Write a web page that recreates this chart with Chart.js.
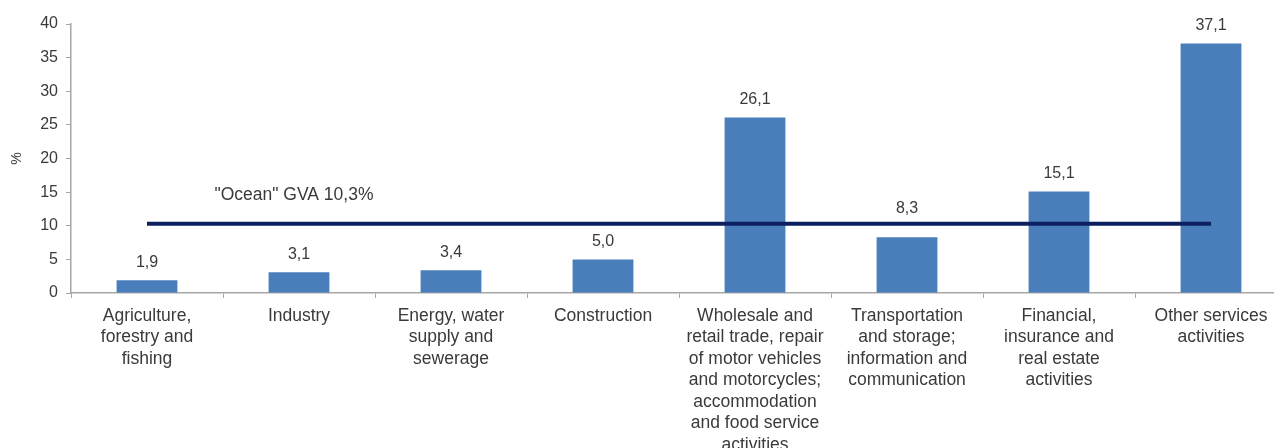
<!DOCTYPE html>
<html>
<head>
<meta charset="utf-8">
<script src="https://cdn.jsdelivr.net/npm/chart.js@4/dist/chart.umd.min.js"></script>
<style>
  html, body { margin: 0; padding: 0; background: #fff; overflow: hidden; }
  #wrap { width: 1290px; height: 448px; position: relative; }
</style>
</head>
<body>
<div id="wrap"><canvas id="c"></canvas></div>
<script>
// Sector shares of value added, in %
const categories = [
  ['Agriculture,', 'forestry and', 'fishing'],
  ['Industry'],
  ['Energy, water', 'supply and', 'sewerage'],
  ['Construction'],
  ['Wholesale and', 'retail trade, repair', 'of motor vehicles', 'and motorcycles;', 'accommodation', 'and food service', 'activities'],
  ['Transportation', 'and storage;', 'information and', 'communication'],
  ['Financial,', 'insurance and', 'real estate', 'activities'],
  ['Other services', 'activities']
];
const shares = [1.9, 3.1, 3.4, 5.0, 26.1, 8.3, 15.1, 37.1];
const oceanGva = 10.3;
const oceanLabel = '"Ocean" GVA 10,3%';
const yTicks = [0, 5, 10, 15, 20, 25, 30, 35, 40];

const textColor = '#3a3a3a';
const fontFamily = '"Liberation Sans", Arial, sans-serif';

const fmt = v => v.toFixed(1).replace('.', ',');

// Value labels above each bar; a label that would sit on the GVA line is lifted above it
const barValues = {
  id: 'barValues',
  afterDatasetsDraw(chart) {
    const ctx = chart.ctx;
    const meta = chart.getDatasetMeta(1);
    const lineY = chart.scales.y.getPixelForValue(oceanGva);
    ctx.save();
    ctx.font = '16px ' + fontFamily;
    ctx.fillStyle = textColor;
    ctx.textAlign = 'center';
    ctx.textBaseline = 'middle';
    meta.data.forEach((bar, i) => {
      let y = bar.y - 18;
      if (Math.abs(y - lineY) < 11) y = lineY - 15;
      ctx.fillText(fmt(shares[i]), bar.x, y);
    });
    ctx.restore();
  }
};

// Caption for the reference line
const lineCaption = {
  id: 'lineCaption',
  afterDatasetsDraw(chart) {
    const ctx = chart.ctx;
    const xs = chart.scales.x, ys = chart.scales.y;
    ctx.save();
    ctx.font = '17.5px ' + fontFamily;
    ctx.fillStyle = textColor;
    ctx.textAlign = 'center';
    ctx.textBaseline = 'middle';
    ctx.fillText(oceanLabel, xs.getPixelForValue(1) - 5, ys.getPixelForValue(oceanGva + 4.3));
    ctx.restore();
  }
};

new Chart(document.getElementById('c'), {
  data: {
    labels: categories,
    datasets: [
      {
        type: 'line',
        data: categories.map(() => oceanGva),
        borderColor: '#0c1f5e',
        borderWidth: 4,
        pointRadius: 0,
        order: 0
      },
      {
        type: 'bar',
        data: shares,
        backgroundColor: '#4a7ebb',
        barPercentage: 0.8,
        categoryPercentage: 0.5,
        order: 1
      }
    ]
  },
  options: {
    responsive: true,
    maintainAspectRatio: false,
    animation: false,
    layout: { padding: { top: 24, right: 3, left: 0, bottom: 0 } },
    plugins: { legend: { display: false }, tooltip: { enabled: false } },
    scales: {
      x: {
        offset: true,
        border: { color: '#a6a6a6', width: 1.5 },
        grid: { display: true, offset: true, drawOnChartArea: false, drawTicks: true, tickLength: 5, color: '#a6a6a6' },
        ticks: {
          color: textColor,
          font: { family: fontFamily, size: 17.5, lineHeight: 1.23 },
          padding: 7,
          maxRotation: 0,
          autoSkip: false
        },
        afterFit(scale) { scale.height = 155; }
      },
      y: {
        min: 0,
        max: 40,
        afterBuildTicks(scale) { scale.ticks = yTicks.map(v => ({ value: v })); },
        border: { color: '#a6a6a6', width: 1.5 },
        grid: { display: true, drawOnChartArea: false, drawTicks: true, tickLength: 5, color: '#a6a6a6' },
        ticks: {
          color: textColor,
          font: { family: fontFamily, size: 16 },
          padding: 8
        },
        title: {
          display: true,
          text: '%',
          color: textColor,
          font: { family: fontFamily, size: 14 },
          padding: { top: 9, bottom: 0 }
        },
        afterFit(scale) { scale.width = 71; }
      }
    }
  },
  plugins: [barValues, lineCaption]
});
</script>
</body>
</html>
